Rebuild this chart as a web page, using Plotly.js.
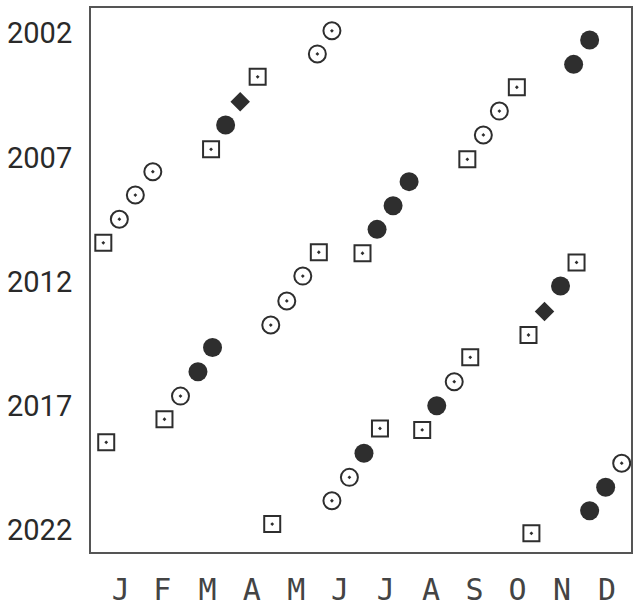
<!DOCTYPE html>
<html>
<head>
<meta charset="utf-8">
<script src="https://cdn.plot.ly/plotly-3.0.1.min.js"></script>
<style>html,body{margin:0;padding:0;background:#fff;}#chart{width:633px;height:607px;}</style>
</head>
<body>
<div id="chart"></div>
<script>
// Solar eclipses 2002-2022: date, day of year (x), row position (y), kind
const dates = ["2002-06-10","2002-12-04","2003-05-31","2003-11-23","2004-04-19","2004-10-14",
  "2005-04-08","2005-10-03","2006-03-29","2006-09-22","2007-03-19","2007-09-11",
  "2008-02-07","2008-08-01","2009-01-26","2009-07-22","2010-01-15","2010-07-11",
  "2011-01-04","2011-06-01","2011-07-01","2011-11-25","2012-05-20","2012-11-13",
  "2013-05-10","2013-11-03","2014-04-29","2014-10-23","2015-03-20","2015-09-13",
  "2016-03-09","2016-09-01","2017-02-26","2017-08-21","2018-02-15","2018-07-13",
  "2018-08-11","2019-01-06","2019-07-02","2019-12-26","2020-06-21","2020-12-14",
  "2021-06-10","2021-12-04","2022-04-30","2022-10-25"];
const dayOfYear = [161,338,151,327,110,288,98,276,88,265,78,254,38,214,26,203,15,192,
  4,152,182,329,141,318,130,307,119,296,79,256,69,245,57,233,46,194,223,6,183,360,
  173,349,161,338,120,298];
const rowPos = [2001.90,2002.27,2002.83,2003.25,2003.75,2004.17,2004.75,2005.13,2005.69,2006.09,
  2006.67,2007.07,2007.57,2007.97,2008.51,2008.94,2009.48,2009.89,2010.43,2010.81,2010.85,2011.22,
  2011.77,2012.17,2012.77,2013.20,2013.74,2014.14,2014.64,2015.04,2015.62,2016.02,2016.60,2016.99,
  2017.53,2017.90,2017.96,2018.46,2018.90,2019.30,2019.87,2020.27,2020.81,2021.21,2021.75,2022.12];
const kind = ["annular","total","annular","total","partial","partial","hybrid","annular","total","annular",
  "partial","partial","annular","total","annular","total","annular","total","partial","partial",
  "partial","partial","annular","total","annular","hybrid","annular","partial","total","partial",
  "total","annular","annular","total","partial","partial","partial","partial","total","annular",
  "annular","total","annular","total","partial","partial"];
const monthTickPos = [16,44.5,75.5,106,136.5,166.5,198,229,259,288.5,319,350];
const monthLabels = ["J","F","M","A","M","J","J","A","S","O","N","D"];
const yearTicks = [2002,2007,2012,2017,2022];

const styles = {
  annular: {symbol:"circle-open-dot", size:17, color:"#2e2e2e", line:{width:2, color:"#2e2e2e"}},
  total:   {symbol:"circle", size:19, color:"#2e2e2e", line:{width:0}},
  hybrid:  {symbol:"diamond", size:15, color:"#2e2e2e", line:{width:0}},
  partial: {symbol:"square-open-dot", size:16, color:"#2e2e2e", line:{width:2, color:"#2e2e2e"}}
};

const traces = Object.keys(styles).map(k => {
  const idx = kind.map((v,i)=>v===k?i:-1).filter(i=>i>=0);
  return {
    type:"scatter", mode:"markers", name:k,
    x: idx.map(i=>dayOfYear[i]),
    y: idx.map(i=>rowPos[i]),
    text: idx.map(i=>dates[i]),
    hoverinfo:"text+name",
    marker: styles[k]
  };
});

const layout = {
  width:633, height:607,
  margin:{l:91, r:2, t:8, b:55},
  paper_bgcolor:"#fff", plot_bgcolor:"#fff",
  showlegend:false,
  xaxis:{
    range:[-4.46, 366.4], autorange:false,
    tickmode:"array", tickvals:monthTickPos, ticktext:monthLabels,
    showgrid:false, zeroline:false, ticks:"",
    showline:true, mirror:true, linecolor:"#555", linewidth:2,
    tickfont:{family:"DejaVu Sans Mono", size:30, color:"#444"},
    ticklabelstandoff:10
  },
  yaxis:{
    range:[2022.873, 2000.982], autorange:false,
    tickmode:"array", tickvals:yearTicks, ticktext:yearTicks.map(String),
    showgrid:false, zeroline:false, ticks:"",
    showline:true, mirror:true, linecolor:"#555", linewidth:2,
    tickfont:{family:"Roboto, sans-serif", size:29, color:"#2a2a2a"},
    ticklabelstandoff:11
  }
};

Plotly.newPlot("chart", traces, layout, {staticPlot:true});
</script>
</body>
</html>
